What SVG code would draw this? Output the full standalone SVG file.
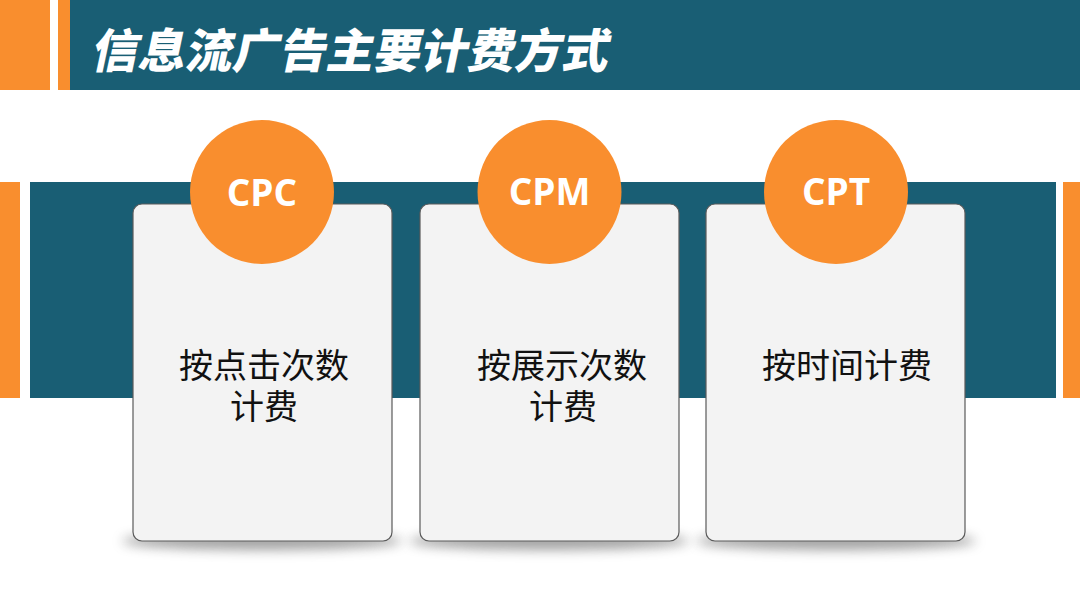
<svg xmlns="http://www.w3.org/2000/svg" width="1080" height="607" viewBox="0 0 1080 607">
<defs>
<filter id="blur" x="-30%" y="-200%" width="160%" height="500%">
<feGaussianBlur stdDeviation="6"/>
</filter>
<style>
.teal{fill:#195E74}
.org{fill:#F98E2E}
.card{fill:#F3F3F3;stroke:#5a5a5a;stroke-width:1.2}
.circ{fill:#F98E2E}
.shadow{fill:#7a7a7a;opacity:0.7;filter:url(#blur)}
.code{font-family:"Open Sans","Liberation Sans",sans-serif;font-weight:700;font-size:37px;fill:#fff;text-anchor:middle}
.desc{font-family:"Noto Sans CJK SC","Noto Sans",sans-serif;font-size:34px;fill:#111;text-anchor:middle}
.title{font-family:"Noto Sans CJK SC",sans-serif;font-weight:900;font-size:47px;fill:#fff}
</style>
</defs>
<rect width="1080" height="607" fill="#fff"/>
<g id="header">
<rect class="org" x="0" y="0" width="50" height="90"/>
<rect class="org" x="58" y="0" width="12" height="90"/>
<rect class="teal" x="70" y="0" width="1010" height="90"/>
<text class="title" transform="translate(90,68) skewX(-12)">信息流广告主要计费方式</text>
</g>
<g id="band">
<rect class="org" x="0" y="182" width="20" height="216"/>
<rect class="teal" x="30" y="182" width="1026" height="216"/>
<rect class="org" x="1063" y="182" width="17" height="216"/>
</g>
<g id="shadows">
<ellipse class="shadow" cx="262" cy="541" rx="140" ry="9"/>
<ellipse class="shadow" cx="549" cy="541" rx="140" ry="9"/>
<ellipse class="shadow" cx="836" cy="541" rx="140" ry="9"/>
</g>
<g id="node-cpc">
<rect class="card" x="133" y="204" width="259" height="337" rx="9"/>
<circle class="circ" cx="262" cy="192" r="72"/>
<text class="code" x="262" y="206">CPC</text>
<text class="desc"><tspan x="264" y="378">按点击次数</tspan><tspan x="264" y="419">计费</tspan></text>
</g>
<g id="node-cpm">
<rect class="card" x="420" y="204" width="259" height="337" rx="9"/>
<circle class="circ" cx="549.5" cy="192" r="72"/>
<text class="code" x="549.5" y="205">CPM</text>
<text class="desc"><tspan x="562" y="378">按展示次数</tspan><tspan x="563" y="419">计费</tspan></text>
</g>
<g id="node-cpt">
<rect class="card" x="706" y="204" width="259" height="337" rx="9"/>
<circle class="circ" cx="836" cy="192" r="72"/>
<text class="code" x="836" y="205">CPT</text>
<text class="desc" x="847" y="378">按时间计费</text>
</g>
<g id="connectors"></g>
</svg>
